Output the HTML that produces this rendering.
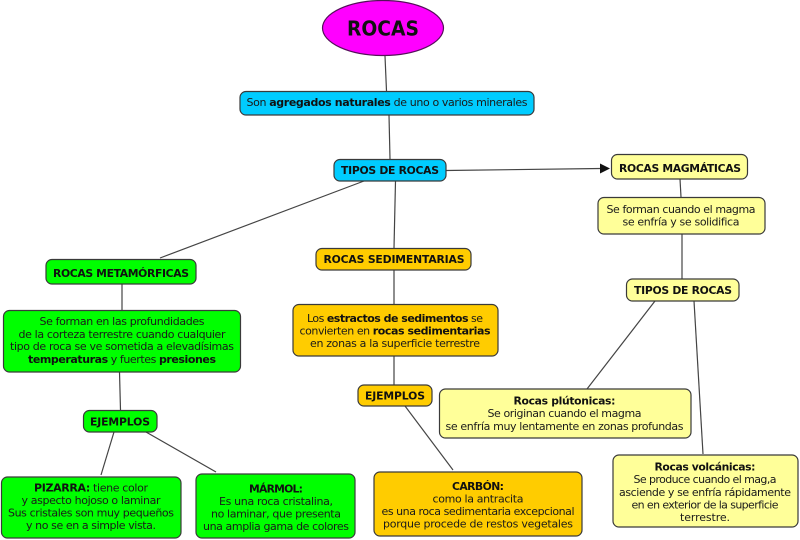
<!DOCTYPE html>
<html lang="es"><head><meta charset="utf-8"><title>Rocas</title>
<style>
html,body{margin:0;padding:0;background:#fff;width:800px;height:540px;overflow:hidden}
svg{display:block}
text{font-family:"DejaVu Sans","Liberation Sans",sans-serif;font-size:11px;fill:#1a1a1a;text-anchor:middle}
.b{font-weight:bold;fill:#111}
tspan.b{font-weight:bold}
text.b{font-size:10.8px}
rect{stroke:#3a3a3a;stroke-width:1.2}
line{stroke:#444;stroke-width:1.2}
</style></head><body>
<svg width="800" height="540" viewBox="0 0 800 540" xmlns="http://www.w3.org/2000/svg">
<g>
<line x1="385" y1="56" x2="386.5" y2="91"/>
<line x1="389" y1="115" x2="390" y2="159"/>
<line x1="446" y1="170.5" x2="601" y2="168.5"/>
<line x1="364" y1="181" x2="160" y2="258"/>
<line x1="395.5" y1="181" x2="394" y2="248"/>
<line x1="122" y1="284" x2="122" y2="310"/>
<line x1="119.5" y1="372" x2="120.5" y2="410"/>
<line x1="114" y1="432" x2="101" y2="475"/>
<line x1="146" y1="432" x2="216" y2="472"/>
<line x1="394" y1="270" x2="394" y2="304"/>
<line x1="394" y1="356" x2="394" y2="385"/>
<line x1="405" y1="406" x2="453" y2="470"/>
<line x1="680" y1="179" x2="681" y2="197"/>
<line x1="682" y1="234" x2="682" y2="279"/>
<line x1="655" y1="301" x2="587" y2="389"/>
<line x1="694" y1="301" x2="703" y2="454"/>
</g>
<polygon points="600,163.5 610,168.5 600,173.5" fill="#111"/>

<ellipse cx="383" cy="28" rx="60.5" ry="27.5" fill="#ff00ff" stroke="#55105a" stroke-width="1.2"/>
<text x="383" y="35.5" class="b" style="font-size:20px" textLength="72" lengthAdjust="spacingAndGlyphs">ROCAS</text>

<rect x="240" y="91.5" width="294" height="23.5" rx="6" fill="#00ccff"/>
<text x="387" y="106" textLength="281">Son <tspan class="b">agregados naturales</tspan> de uno o varios minerales</text>

<rect x="334" y="159.5" width="112" height="21.5" rx="6" fill="#00ccff"/>
<text x="390" y="174" class="b" textLength="98">TIPOS DE ROCAS</text>

<rect x="611.5" y="154.5" width="136" height="24.5" rx="6" fill="#ffff99"/>
<text x="680" y="172" class="b" textLength="122">ROCAS MAGMÁTICAS</text>

<rect x="598" y="197.5" width="167" height="36.5" rx="6" fill="#ffff99"/>
<text x="681" y="213" textLength="149">Se forman cuando el magma</text>
<text x="681" y="225.5" textLength="117">se enfría y se solidifica</text>

<rect x="626.5" y="279" width="112.5" height="22" rx="6" fill="#ffff99"/>
<text x="683" y="294" class="b" textLength="98">TIPOS DE ROCAS</text>

<rect x="46" y="259.5" width="150" height="24.5" rx="6" fill="#00ff00"/>
<text x="121" y="277" class="b" textLength="136">ROCAS METAMÓRFICAS</text>

<rect x="3.5" y="310.5" width="237" height="61.5" rx="6" fill="#00ff00"/>
<text x="122" y="325" textLength="165">Se forman en las profundidades</text>
<text x="122" y="338" textLength="207">de la corteza terrestre cuando cualquier</text>
<text x="122" y="350" textLength="224">tipo de roca se ve sometida a elevadísimas</text>
<text x="122" y="363" textLength="188"><tspan class="b">temperaturas</tspan> y fuertes <tspan class="b">presiones</tspan></text>

<rect x="83.5" y="410.5" width="73.5" height="21.5" rx="6" fill="#00ff00"/>
<text x="120" y="425.5" class="b" textLength="60">EJEMPLOS</text>

<rect x="1.5" y="477" width="179.5" height="61" rx="6" fill="#00ff00"/>
<text x="91" y="491.5" textLength="114"><tspan class="b">PIZARRA:</tspan> tiene color</text>
<text x="91" y="504" textLength="139">y aspecto hojoso o laminar</text>
<text x="91" y="516.5" textLength="166">Sus cristales son muy pequeños</text>
<text x="91" y="529" textLength="130">y no se en a simple vista.</text>

<rect x="196" y="474" width="159" height="64" rx="6" fill="#00ff00"/>
<text x="276" y="492.5" class="b" textLength="54">MÁRMOL:</text>
<text x="276" y="505" textLength="114">Es una roca cristalina,</text>
<text x="276" y="517.5" textLength="130">no laminar, que presenta</text>
<text x="276" y="530" textLength="146">una amplia gama de colores</text>

<rect x="316" y="248.5" width="155" height="21.5" rx="6" fill="#ffcc00"/>
<text x="394" y="263" class="b" textLength="141">ROCAS SEDIMENTARIAS</text>

<rect x="293" y="304.5" width="205" height="51.5" rx="6" fill="#ffcc00"/>
<text x="395" y="322" textLength="176">Los <tspan class="b">estractos de sedimentos</tspan> se</text>
<text x="395" y="334.5" textLength="191">convierten en <tspan class="b">rocas sedimentarias</tspan></text>
<text x="395" y="347" textLength="170">en zonas a la superficie terrestre</text>

<rect x="358" y="385" width="74" height="21" rx="6" fill="#ffcc00"/>
<text x="395" y="399.5" class="b" textLength="60">EJEMPLOS</text>

<rect x="374" y="472" width="208" height="64" rx="6" fill="#ffcc00"/>
<text x="478" y="490" class="b" textLength="52">CARBÓN:</text>
<text x="478" y="502.5" textLength="91">como la antracita</text>
<text x="478" y="515" textLength="193">es una roca sedimentaria excepcional</text>
<text x="478" y="527.5" textLength="190">porque procede de restos vegetales</text>

<rect x="439.5" y="389" width="251.5" height="49" rx="6" fill="#ffff99"/>
<text x="564.5" y="404.5" class="b" textLength="102">Rocas plútonicas:</text>
<text x="564.5" y="417" textLength="154">Se originan cuando el magma</text>
<text x="564.5" y="430" textLength="238">se enfría muy lentamente en zonas profundas</text>

<rect x="613" y="455" width="185" height="72" rx="6" fill="#ffff99"/>
<text x="705" y="470.5" class="b" textLength="101">Rocas volcánicas:</text>
<text x="705" y="483" textLength="143">Se produce cuando el mag,a</text>
<text x="705" y="496" textLength="172">asciende y se enfría rápidamente</text>
<text x="705" y="508.5" textLength="147">en en exterior de la superficie</text>
<text x="705" y="521" textLength="50">terrestre.</text>
</svg>
</body></html>
